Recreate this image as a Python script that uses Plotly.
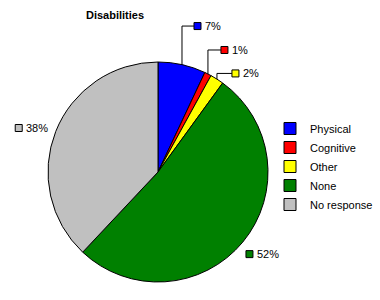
import math
import plotly.graph_objects as go

# ---- data ----
categories = ["Physical", "Cognitive", "Other", "None", "No response"]
percents = [7, 1, 2, 52, 38]
colors = ["#0000FF", "#FF0000", "#FFFF00", "#008000", "#C0C0C0"]
title_text = "Disabilities"

# ---- layout / style (pixels) ----
W, H = 380, 300
CX, CY, R = 158, 172, 110
# offset of each label's marker square from the slice's outer midpoint
label_offsets = [(15.5, -38.6), (16.5, -24), (18.5, -5.7), (6.7, 12), (-37, -3.5)]
leader = [True, True, True, False, False]
SQ = 7
FONT = "Arial, Liberation Sans, sans-serif"


def px(x):
    return x / W


def py(y):
    return 1 - y / H


fig = go.Figure()
fig.add_trace(go.Pie(
    labels=categories,
    values=percents,
    sort=False,
    direction="clockwise",
    rotation=0,
    marker=dict(colors=colors, line=dict(color="black", width=1)),
    textinfo="none",
    hoverinfo="label+percent",
    domain=dict(x=[px(CX - R), px(CX + R)], y=[py(CY + R), py(CY - R)]),
    showlegend=True,
))

shapes = []
annotations = []
total = sum(percents)
cum = 0
for i, v in enumerate(percents):
    theta = 2 * math.pi * (cum + v / 2) / total
    cum += v
    ex = CX + R * math.sin(theta)
    ey = CY - R * math.cos(theta)
    dx, dy = label_offsets[i]
    sx, sy = ex + dx, ey + dy
    if leader[i]:
        shapes.append(dict(
            type="path", xref="paper", yref="paper",
            path=f"M{px(ex)},{py(ey)} L{px(ex)},{py(sy)} L{px(sx - SQ / 2)},{py(sy)}",
            line=dict(color="black", width=1),
        ))
    shapes.append(dict(
        type="rect", xref="paper", yref="paper",
        x0=px(sx - SQ / 2), x1=px(sx + SQ / 2), y0=py(sy + SQ / 2), y1=py(sy - SQ / 2),
        fillcolor=colors[i], line=dict(color="black", width=1),
    ))
    annotations.append(dict(
        xref="paper", yref="paper", x=px(sx + SQ / 2 + 2), y=py(sy),
        xanchor="left", yanchor="middle", showarrow=False,
        text=f"{v}%", font=dict(family=FONT, size=11, color="black"),
    ))

fig.update_layout(
    width=W, height=H, autosize=False,
    margin=dict(l=0, r=0, t=0, b=0, pad=0),
    paper_bgcolor="white",
    plot_bgcolor="white",
    title=dict(text=f"<b>{title_text}</b>", x=px(115), y=py(15), xanchor="center", yanchor="middle",
               font=dict(family=FONT, size=11, color="black")),
    legend=dict(x=px(270), y=py(114), xanchor="left", yanchor="top",
                font=dict(family=FONT, size=11, color="black"),
                itemwidth=30, tracegroupgap=0),
    shapes=shapes,
    annotations=annotations,
)

fig.write_html(
    "out.html",
    config={"responsive": False, "displayModeBar": False},
    post_script="document.body.style.margin='0';document.body.style.overflow='hidden';",
)
